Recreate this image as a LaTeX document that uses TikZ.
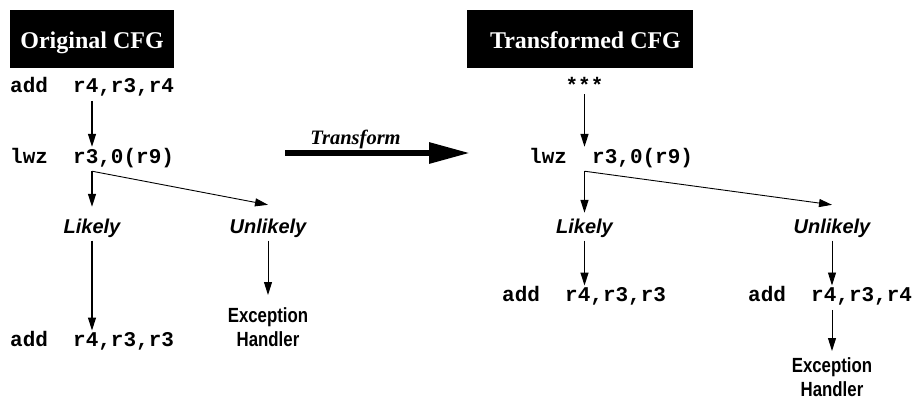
\documentclass[tikz,border=0pt]{standalone}
\usepackage{fontspec}
\setmainfont{Liberation Serif}
\newfontfamily\codefont{Liberation Mono}
\newfontfamily\lkfont{Liberation Sans}
\newfontfamily\exfont{Liberation Sans}[FakeStretch=0.82]
\usetikzlibrary{arrows.meta}
\tikzset{
  titlebox/.style={fill=black, text=white, inner sep=0pt, minimum height=58pt,
    text height=18pt, text depth=0pt, font=\fontsize{24}{28}\selectfont\bfseries},
  code/.style={anchor=base west, inner xsep=0pt, inner ysep=4pt, text height=12pt, text depth=4pt,
    font=\fontsize{21}{24}\selectfont\codefont\bfseries},
  prob/.style={anchor=base, inner xsep=0pt, inner ysep=3pt, text height=14.5pt, text depth=4.5pt,
    font=\fontsize{20}{24}\selectfont\lkfont\bfseries\itshape},
  exc/.style={anchor=north, inner sep=0pt, align=center,
    font=\fontsize{20.5}{24.5}\selectfont\exfont\bfseries},
  arr/.style={line width=1.3pt, -{Triangle[length=13pt,width=8pt]}},
  thin arr/.style={line width=0.9pt, -{Triangle[length=13pt,width=8pt]}},
  bigarr/.style={line width=6pt, -{Triangle[length=41pt,width=20pt]}}
}
\begin{document}
\begin{tikzpicture}[x=1pt,y=-1pt]
\useasboundingbox (0,0) rectangle (913,400);
% ---- Original CFG ----
\node[titlebox, minimum width=164pt] (t1) at (92,39) {Original CFG};
\node[code] (add1) at (10,92.7) {add\ \ r4,r3,r4};
\node[code] (lwz1) at (10,163) {lwz\ \ r3,0(r9)};
\node[prob] (lk1) at (92,233) {Likely};
\node[prob] (ul1) at (268,233) {Unlikely};
\node[code] (add3) at (10,346.7) {add\ \ r4,r3,r3};
\node[exc] (ex1) at (268,307) {Exception\\Handler};
\coordinate (b1) at (lwz1.south -| lk1);
\draw[arr] (add1.south -| lk1) -- (lwz1.north -| lk1);
\draw[arr] (b1) -- ([yshift=8.5pt]lk1.north);
\draw[thin arr] (b1) -- ([yshift=10.5pt]ul1.north);
\draw[arr] (lk1.south) -- (lk1.south |- add3.north);
\draw[thin arr] (ul1.south) -- ([yshift=12pt]ex1.north);
% ---- Transform ----
\node[anchor=base, inner sep=0pt, font=\fontsize{20.5}{24}\selectfont\bfseries\itshape] (tr) at (355.5,144) {Transform};
\coordinate (ts) at (285,153);
\coordinate (te) at (470,153);
\draw[bigarr] (ts) -- (te);
% ---- Transformed CFG ----
\node[titlebox, minimum width=226pt] (t2) at (580,39) {\hspace*{11pt}Transformed CFG};
\node[anchor=base, inner xsep=0pt, inner ysep=4pt, text height=12pt, text depth=4pt,
  font=\fontsize{21}{24}\selectfont\codefont\bfseries] (star) at (584.5,92) {***};
\node[code] (lwz2) at (529,163) {lwz\ \ r3,0(r9)};
\node[prob] (lk2) at (584.5,233) {Likely};
\node[prob] (ul2) at (832,233) {Unlikely};
\node[code] (add2) at (502,301.7) {add\ \ r4,r3,r3};
\node[code] (add4) at (748,301.7) {add\ \ r4,r3,r4};
\node[exc] (ex2) at (832,357) {Exception\\Handler};
\coordinate (b2) at (lwz2.south -| lk2);
\draw[arr] ([yshift=6pt]star.south) -- (lwz2.north -| star);
\draw[arr] (b2) -- ([yshift=2.5pt]lk2.north);
\draw[thin arr] (b2) -- ([yshift=10.5pt]ul2.north);
\draw[arr] (lk2.south) -- (lk2.south |- add2.north);
\draw[thin arr] (ul2.south) -- (ul2.south |- add4.north);
\draw[thin arr] (add4.south -| ul2) -- ([yshift=6pt]ex2.north);
\end{tikzpicture}
\end{document}
